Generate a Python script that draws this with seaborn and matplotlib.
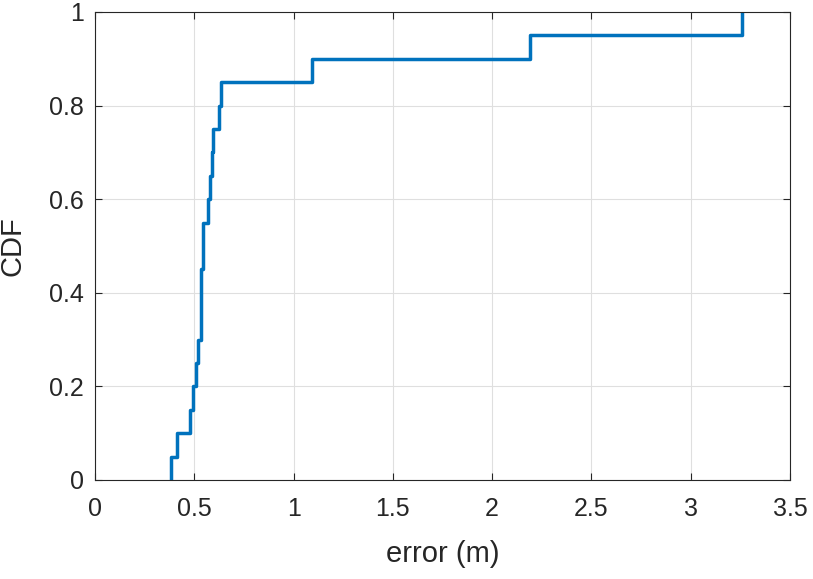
import matplotlib
matplotlib.use("Agg")
import matplotlib.pyplot as plt
import numpy as np
import seaborn as sns

sns.set_style("white")
plt.rcParams["font.family"] = ["Liberation Sans", "DejaVu Sans"]

# localisation errors (m), 20 trials
errors = [0.384, 0.414, 0.478, 0.495, 0.507, 0.517,
          0.534, 0.534, 0.534, 0.545, 0.545, 0.567,
          0.579, 0.587, 0.596, 0.623, 0.634, 1.094,
          2.19, 3.258]
x_ticks = [0, 0.5, 1, 1.5, 2, 2.5, 3, 3.5]
x_tick_labels = ["0", "0.5", "1", "1.5", "2", "2.5", "3", "3.5"]
y_ticks = [0, 0.2, 0.4, 0.6, 0.8, 1]
y_tick_labels = ["0", "0.2", "0.4", "0.6", "0.8", "1"]

text_col = "#262626"

fig = plt.figure(figsize=(8.13, 5.79), dpi=100)
ax = fig.add_axes([0.1169, 0.171, 0.8548, 0.8083])

sns.ecdfplot(x=errors, ax=ax, color="#0072BD", linewidth=2.5)
# start the curve at the first sample (like MATLAB's cdfplot) instead of -inf
line = ax.lines[0]
xd, yd = line.get_data()
xd = np.array(xd, dtype=float)
xd[0] = xd[1]
line.set_data(xd, yd)

ax.set_xlim(0, 3.5)
ax.set_ylim(0, 1)
ax.set_xticks(x_ticks)
ax.set_xticklabels(x_tick_labels)
ax.set_yticks(y_ticks)
ax.set_yticklabels(y_tick_labels)
ax.grid(True, color="#dfdfdf", linewidth=0.8)
ax.set_axisbelow(True)

for s in ax.spines.values():
    s.set_visible(True)
    s.set_color(text_col)
    s.set_linewidth(0.8)

ax.tick_params(direction="in", length=5, width=0.8, colors=text_col,
               labelsize=18, top=True, right=True, bottom=True, left=True, pad=8)
ax.tick_params(axis="x", pad=12)
ax.set_xlabel("error (m)", fontsize=21, color=text_col, labelpad=14)
ax.set_ylabel("CDF", fontsize=21, color=text_col, labelpad=16)

plt.savefig("out.png", dpi=100)
